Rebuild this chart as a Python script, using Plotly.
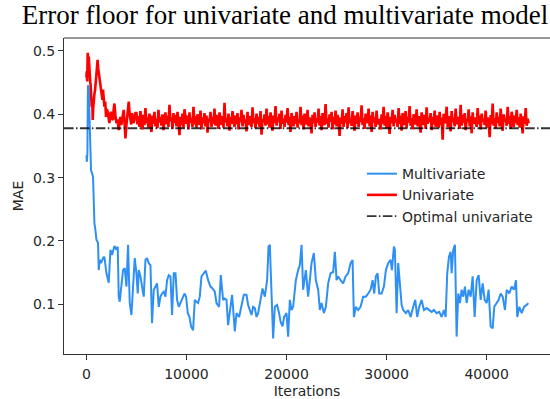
import plotly.graph_objects as go

# ---------------- data ----------------
# Multivariate model: (iteration, MAE)
multivariate = [
    (0, 0.335), (50, 0.325), (100, 0.340), (150, 0.446), (230, 0.440), (330, 0.380),
    (460, 0.312), (660, 0.302), (800, 0.228), (900, 0.217), (1000, 0.202), (1160, 0.197),
    (1230, 0.154), (1330, 0.170), (1460, 0.165), (1660, 0.173), (1800, 0.175), (2000, 0.149),
    (2230, 0.134), (2400, 0.186), (2560, 0.178), (2800, 0.192), (3000, 0.186), (3130, 0.191),
    (3230, 0.112), (3330, 0.104), (3500, 0.134), (3660, 0.154), (3830, 0.157), (4000, 0.128),
    (4160, 0.194), (4330, 0.102), (4500, 0.083), (4660, 0.123), (4830, 0.173), (5000, 0.149),
    (5130, 0.117), (5230, 0.154), (5400, 0.144), (5560, 0.128), (5730, 0.112), (5900, 0.170),
    (6060, 0.173), (6230, 0.165), (6400, 0.162), (6560, 0.070), (6730, 0.123), (6900, 0.128),
    (7060, 0.133), (7230, 0.096), (7400, 0.112), (7560, 0.117), (7730, 0.120), (7900, 0.112),
    (8060, 0.138), (8230, 0.146), (8400, 0.144), (8560, 0.083), (8730, 0.149), (8900, 0.149),
    (9060, 0.107), (9230, 0.096), (9400, 0.102), (9560, 0.109), (9800, 0.117), (9960, 0.112),
    (10130, 0.086), (10300, 0.080), (10460, 0.065), (10660, 0.059), (10830, 0.107), (11000, 0.104),
    (11160, 0.102), (11330, 0.112), (11500, 0.144), (11730, 0.149), (11930, 0.153), (12160, 0.138),
    (12400, 0.128), (12600, 0.125), (12830, 0.120), (13000, 0.102), (13260, 0.096), (13430, 0.146),
    (13660, 0.107), (13830, 0.109), (14000, 0.107), (14160, 0.067), (14330, 0.086), (14560, 0.115),
    (14830, 0.057), (15000, 0.086), (15260, 0.080), (15500, 0.096), (15730, 0.115), (16000, 0.115),
    (16160, 0.099), (16330, 0.091), (16500, 0.083), (16660, 0.096), (16830, 0.094), (17000, 0.080),
    (17160, 0.086), (17400, 0.107), (17600, 0.125), (17830, 0.112), (18060, 0.138), (18200, 0.191),
    (18330, 0.194), (18500, 0.117), (18660, 0.046), (18830, 0.096), (19060, 0.099), (19260, 0.086),
    (19400, 0.073), (19600, 0.065), (19760, 0.080), (20000, 0.086), (20160, 0.049), (20330, 0.107),
    (20500, 0.091), (20660, 0.096), (20930, 0.138), (21160, 0.154), (21330, 0.162), (21500, 0.194),
    (21660, 0.123), (21930, 0.154), (22160, 0.112), (22500, 0.165), (22730, 0.181), (22930, 0.138),
    (23160, 0.123), (23330, 0.091), (23500, 0.102), (23730, 0.086), (23930, 0.096), (24160, 0.133),
    (24400, 0.149), (24660, 0.151), (24830, 0.183), (25000, 0.138), (25160, 0.144), (25400, 0.138),
    (25660, 0.133), (25900, 0.144), (26160, 0.149), (26400, 0.165), (26600, 0.170), (26730, 0.080),
    (26930, 0.096), (27160, 0.091), (27400, 0.096), (27660, 0.112), (27930, 0.112), (28160, 0.117),
    (28400, 0.123), (28600, 0.138), (28760, 0.117), (28930, 0.144), (29100, 0.149), (29260, 0.117),
    (29500, 0.117), (29730, 0.128), (29930, 0.154), (30160, 0.165), (30400, 0.170), (30530, 0.154),
    (30730, 0.191), (30830, 0.186), (31000, 0.086), (31160, 0.165), (31330, 0.123), (31500, 0.099),
    (31660, 0.091), (31930, 0.086), (32160, 0.091), (32400, 0.080), (32660, 0.096), (32860, 0.107),
    (33060, 0.080), (33260, 0.096), (33500, 0.107), (33730, 0.091), (34000, 0.094), (34260, 0.091),
    (34500, 0.088), (34730, 0.091), (35000, 0.086), (35260, 0.088), (35500, 0.080), (35730, 0.091),
    (35900, 0.080), (36060, 0.149), (36230, 0.175), (36400, 0.183), (36500, 0.149), (36660, 0.186),
    (36830, 0.194), (37000, 0.049), (37160, 0.117), (37330, 0.102), (37500, 0.123), (37660, 0.112),
    (37830, 0.128), (38000, 0.102), (38200, 0.123), (38400, 0.112), (38600, 0.144), (38800, 0.080),
    (39000, 0.138), (39200, 0.146), (39400, 0.107), (39600, 0.133), (39800, 0.107), (40000, 0.102),
    (40200, 0.123), (40400, 0.065), (40600, 0.062), (40760, 0.096), (41000, 0.102), (41200, 0.107),
    (41400, 0.117), (41600, 0.112), (41830, 0.091), (42000, 0.123), (42260, 0.117), (42500, 0.128),
    (42730, 0.123), (42930, 0.138), (43060, 0.080), (43260, 0.096), (43500, 0.086), (43730, 0.096),
    (44000, 0.099), (44160, 0.102),
]

# Univariate model, first iterations (irregularly read)
uni_early_iter = [0, 40, 80, 130, 180, 230, 280, 330, 380, 430,
                  480, 530, 580, 630, 680, 730, 800, 870, 940, 1000,
                  1060, 1120, 1180, 1240, 1300, 1360, 1420, 1480, 1540, 1600,
                  1660, 1720, 1800, 1880, 1960, 2040, 2130, 2210, 2300, 2380,
                  2460, 2560, 2660, 2730, 2800, 2900, 3000, 3100, 3230, 3320,
                  3400, 3480, 3560, 3640, 3730, 3820, 3900, 3980, 4060, 4150,
                  4230, 4320, 4400, 4480, 4560, 4650, 4730, 4820, 4900]
uni_early_mae = [0.458, 0.468, 0.452, 0.497, 0.480, 0.491, 0.470, 0.465, 0.452, 0.444,
                 0.430, 0.412, 0.425, 0.391, 0.410, 0.423, 0.432, 0.439, 0.455, 0.470,
                 0.478, 0.486, 0.472, 0.465, 0.455, 0.449, 0.440, 0.433, 0.427, 0.423,
                 0.439, 0.428, 0.412, 0.420, 0.396, 0.408, 0.404, 0.395, 0.386, 0.399,
                 0.404, 0.393, 0.391, 0.409, 0.417, 0.398, 0.386, 0.392, 0.375, 0.388,
                 0.396, 0.383, 0.391, 0.400, 0.407, 0.385, 0.362, 0.380, 0.396, 0.405,
                 0.420, 0.401, 0.391, 0.384, 0.402, 0.390, 0.386, 0.395, 0.402]

# Univariate model, noisy plateau: MAE x 1000, every 100 iterations from 5000
uni_band_start = 5000
uni_band_step = 100
uni_band_mae_milli = [
    402, 384, 397, 380, 405, 388, 376, 399, 383, 410, 386, 395, 379, 401, 390, 372, 398, 385, 404, 381,
    393, 378, 407, 387, 396, 382, 400, 375, 392, 403, 384, 398, 380, 415, 389, 395, 377, 402, 386, 399,
    381, 404, 388, 367, 396, 383, 401, 379, 408, 390, 385, 398, 376, 403, 387, 394, 380, 412, 384, 397,
    379, 400, 389, 383, 406, 376, 395, 386, 402, 381, 398, 371, 393, 388, 404, 380, 396, 385, 409, 382,
    399, 386, 377, 403, 390, 383, 397, 379, 418, 387, 394, 381, 401, 374, 396, 385, 405, 389, 380, 398,
    384, 402, 376, 395, 388, 407, 381, 399, 386, 392, 373, 404, 383, 397, 390, 380, 411, 386, 394, 378,
    401, 385, 396, 380, 405, 368, 393, 387, 400, 382, 409, 384, 397, 379, 403, 389, 374, 398, 386, 413,
    382, 395, 388, 401, 377, 406, 385, 393, 380, 399, 387, 410, 383, 396, 372, 402, 389, 381, 397, 385,
    404, 379, 392, 386, 412, 383, 398, 376, 401, 390, 384, 407, 381, 395, 388, 370, 399, 386, 403, 380,
    394, 387, 409, 382, 397, 375, 402, 389, 383, 416, 385, 393, 379, 400, 388, 404, 376, 396, 384, 406,
    381, 399, 390, 366, 395, 385, 408, 380, 397, 387, 402, 378, 411, 386, 393, 382, 405, 389, 374, 398,
    385, 403, 380, 396, 388, 414, 383, 394, 377, 401, 389, 386, 409, 381, 398, 372, 404, 387, 395, 380,
    406, 384, 392, 389, 376, 400, 385, 412, 382, 397, 378, 403, 390, 369, 396, 386, 407, 381, 399, 387,
    393, 380, 410, 385, 398, 374, 402, 388, 383, 405, 379, 396, 387, 413, 382, 394, 376, 400, 389, 384,
    408, 381, 397, 386, 371, 403, 390, 383, 399, 377, 411, 385, 394, 388, 402, 375, 396, 384, 406, 380,
    398, 387, 379, 404, 383, 395, 360, 401, 386, 392, 412, 380, 397, 385, 373, 405, 388, 394, 381, 409,
    384, 396, 389, 377, 415, 382, 399, 386, 402, 375, 393, 388, 408, 381, 397, 370, 403, 385, 395, 387,
    380, 410, 384, 398, 376, 401, 388, 392, 383, 406, 379, 395, 387, 364, 399, 385, 417, 382, 394, 378,
    403, 386, 396, 381, 409, 384, 374, 400, 389, 393, 382, 412, 385, 397, 377, 404, 388, 380, 398, 386,
    407, 383, 395, 379, 401, 388, 370, 397, 385, 410, 382, 393, 386,
]

optimal_univariate_mae = 0.378

x_range = [-2240, 46330]
y_range = [0.0215, 0.5205]
x_ticks = [0, 10000, 20000, 30000, 40000]
y_ticks = [0.1, 0.2, 0.3, 0.4, 0.5]

title = "Error floor for univariate and multivariate model"
x_label = "Iterations"
y_label = "MAE"
series_names = ["Multivariate", "Univariate", "Optimal univariate"]

# ---------------- build series ----------------
multi_x = [p[0] for p in multivariate]
multi_y = [p[1] for p in multivariate]

uni_x = list(uni_early_iter) + [uni_band_start + i * uni_band_step for i in range(len(uni_band_mae_milli))]
uni_y = list(uni_early_mae) + [v / 1000 for v in uni_band_mae_milli]

fig = go.Figure()
fig.add_trace(go.Scatter(x=multi_x, y=multi_y, mode="lines", name=series_names[0],
                         line=dict(color="#2e8ff5", width=2)))
fig.add_trace(go.Scatter(x=uni_x, y=uni_y, mode="lines", name=series_names[1],
                         line=dict(color="#ff0000", width=2.6)))
fig.add_trace(go.Scatter(x=x_range, y=[optimal_univariate_mae] * 2, mode="lines", name=series_names[2],
                         line=dict(color="rgba(0,0,0,0.8)", width=1.8, dash="9.6px,2.4px,1.5px,2.4px")))

font_main = "DejaVu Sans"
text_col = "#262626"

fig.update_layout(
    width=550, height=399,
    margin=dict(l=64, r=0, t=38, b=45, pad=0),
    paper_bgcolor="white", plot_bgcolor="white",
    font=dict(family=font_main, size=14, color=text_col),
    title=dict(text=title, x=285 / 550, xanchor="center", xref="container",
               y=1 - 5 / 399, yanchor="top",
               font=dict(family="Liberation Serif", size=27, color="#000000")),
    showlegend=True,
    legend=dict(x=0.613, y=0.62, xanchor="left", yanchor="top", bgcolor="rgba(0,0,0,0)",
                font=dict(family=font_main, size=14, color=text_col), tracegroupgap=0),
    xaxis=dict(range=x_range, tickvals=x_ticks, ticktext=[str(t) for t in x_ticks],
               automargin=False,
               showgrid=False, zeroline=False, showline=True, linecolor="#333333", linewidth=1,
               ticks="outside", ticklen=5, tickcolor="#333333", tickwidth=1,
               ticklabelstandoff=2,
               title=dict(text=x_label, standoff=12, font=dict(size=14))),
    yaxis=dict(range=y_range, tickvals=y_ticks, ticktext=[f"{t:.1f}" for t in y_ticks],
               automargin=False,
               showgrid=False, zeroline=False, showline=True, linecolor="#333333", linewidth=1,
               ticks="outside", ticklen=5, tickcolor="#333333", tickwidth=1,
               title=dict(text=y_label, standoff=6, font=dict(size=14))),
    shapes=[dict(type="line", xref="paper", yref="paper", x0=0, x1=1, y0=1, y1=1,
                 line=dict(color="#333333", width=1))],
)

fig.write_html("out.html")
